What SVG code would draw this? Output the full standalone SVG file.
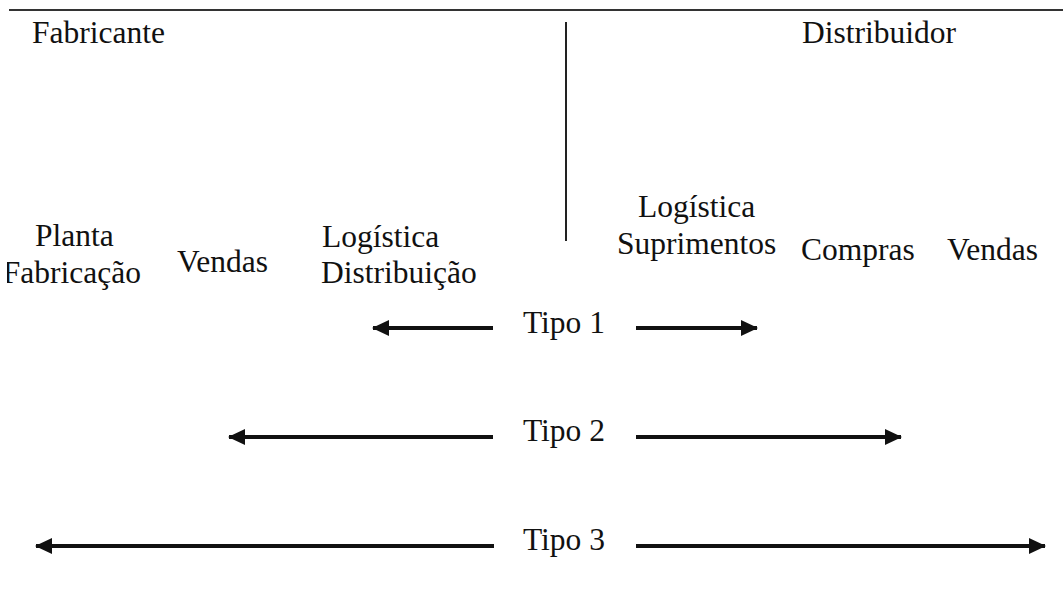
<svg xmlns="http://www.w3.org/2000/svg" width="1063" height="596" viewBox="0 0 1063 596">
<style>
.t{font-family:'Liberation Serif', serif;font-size:31.5px;fill:#111}
.ln{stroke:#111;stroke-width:4;fill:none}
</style>
<defs>
<marker id="ah" markerUnits="userSpaceOnUse" markerWidth="18" markerHeight="18" viewBox="0 0 18 18" refX="16" refY="9" orient="auto">
<path d="M0,1 L17,9 L0,17 Z" fill="#111"/>
</marker>
<clipPath id="cl"><rect x="7" y="200" width="300" height="100"/></clipPath>
</defs>
<rect width="1063" height="596" fill="#fff"/>
<line x1="9" y1="10" x2="1063" y2="10" stroke="#333" stroke-width="2"/>
<line x1="566" y1="22" x2="566" y2="241" stroke="#222" stroke-width="2"/>
<g class="t">
<g id="fabricante"><text x="32" y="43">Fabricante</text></g>
<g id="distribuidor"><text x="802" y="43">Distribuidor</text></g>
<g id="planta"><text x="35" y="246">Planta</text><text x="141" y="283" text-anchor="end" clip-path="url(#cl)">Fabricação</text></g>
<g id="vendas1"><text x="177" y="272">Vendas</text></g>
<g id="logdist"><text x="322" y="247">Logística</text><text x="321" y="283">Distribuição</text></g>
<g id="logsup"><text x="638" y="217">Logística</text><text x="617" y="254">Suprimentos</text></g>
<g id="compras"><text x="801" y="260">Compras</text></g>
<g id="vendas2"><text x="947" y="260">Vendas</text></g>
<g id="tipo1"><text x="564" y="333" text-anchor="middle">Tipo 1</text></g>
<g id="tipo2"><text x="564" y="441" text-anchor="middle">Tipo 2</text></g>
<g id="tipo3"><text x="564" y="550" text-anchor="middle">Tipo 3</text></g>
</g>
<g id="connectors">
<line class="ln" x1="493" y1="328" x2="373" y2="328" marker-end="url(#ah)"/>
<line class="ln" x1="636" y1="328" x2="757" y2="328" marker-end="url(#ah)"/>
<line class="ln" x1="493" y1="437" x2="229" y2="437" marker-end="url(#ah)"/>
<line class="ln" x1="636" y1="437" x2="901" y2="437" marker-end="url(#ah)"/>
<line class="ln" x1="494" y1="546" x2="36" y2="546" marker-end="url(#ah)"/>
<line class="ln" x1="636" y1="546" x2="1045" y2="546" marker-end="url(#ah)"/>
</g>
</svg>
